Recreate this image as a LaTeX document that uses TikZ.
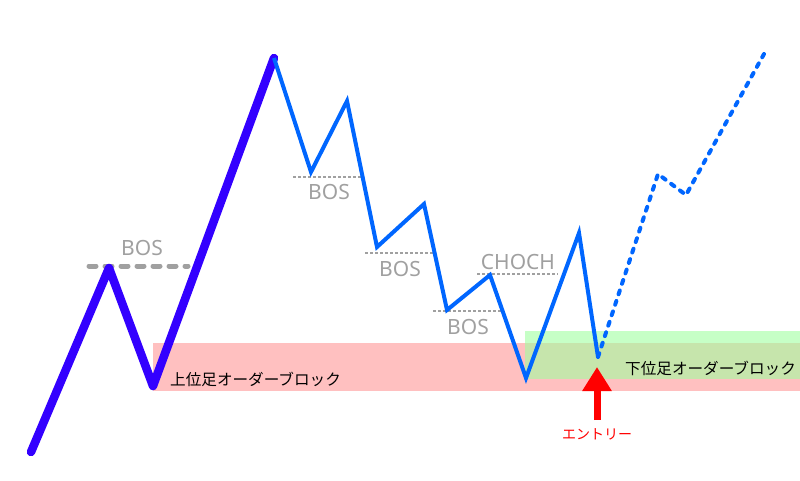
\documentclass[tikz,border=0pt]{standalone}
\usepackage{fontspec}
\setmainfont{Noto Sans CJK JP}
\newfontfamily\latinlbl{Noto Sans}
\usetikzlibrary{arrows.meta}
\definecolor{purp}{RGB}{51,0,255}
\definecolor{blu}{RGB}{0,102,255}
\definecolor{gry}{RGB}{160,160,160}
\definecolor{pnk}{RGB}{255,192,192}
\definecolor{grn}{RGB}{160,255,160}
\tikzset{
  lbl/.style={text=gry, font=\latinlbl\fontsize{21}{21}\selectfont, inner sep=0pt},
  jp/.style={text=black, font=\fontsize{15.6}{16}\selectfont, inner sep=0pt, anchor=west},
  bosline/.style={gry, line width=1.3pt, dash pattern=on 3pt off 2pt},
}
\begin{document}
\begin{tikzpicture}[x=1pt,y=-1pt]
\useasboundingbox (0,0) rectangle (800,480);
% zones
\fill[pnk] (153,343) rectangle (800,391);
\fill[grn, opacity=0.6] (525,331) rectangle (800,379);
% points
\coordinate (a0) at (31,452);
\coordinate (a1) at (109,268);
\coordinate (a2) at (153,386);
\coordinate (a3) at (274,58);
\coordinate (b1) at (311,172);
\coordinate (b2) at (347,101);
\coordinate (b3) at (377,247);
\coordinate (b4) at (424,204);
\coordinate (b5) at (447,310);
\coordinate (b6) at (490,275);
\coordinate (b7) at (526,378);
\coordinate (b8) at (579,233);
\coordinate (b9) at (598,357);
\coordinate (c1) at (658,174);
\coordinate (c2) at (686,195);
\coordinate (c3) at (764,54);
% BOS lines
\draw[gry, line width=5pt, line cap=round, dash pattern=on 7pt off 9pt] (89,266) coordinate (s1) -- (188,266) coordinate (e1);
\node[lbl] (t1) at (142,248) {BOS};
\draw[bosline] (293,177) coordinate (s2) -- (362,177) coordinate (e2);
\node[lbl] (t2) at (329,192) {BOS};
\draw[bosline] (365,253) coordinate (s3) -- (433,253) coordinate (e3);
\node[lbl] (t3) at (400,269) {BOS};
\draw[bosline] (477,274) coordinate (s4) -- (558,274) coordinate (e4);
\node[lbl] (t4) at (518,262) {CHOCH};
\draw[bosline] (433,311) coordinate (s5) -- (503,311) coordinate (e5);
\node[lbl] (t5) at (468,327) {BOS};
% price path
\draw[purp, line width=8.5pt, line join=round, line cap=round] (a0) -- (a1) -- (a2) -- (a3);
\draw[blu, line width=4pt, line join=miter] (a3) -- (b1) -- (b2) -- (b3) -- (b4) -- (b5) -- (b6) -- (b7) -- (b8) -- (b9);
\draw[blu, line width=4pt, line cap=round, dash pattern=on 4pt off 7pt] (b9) -- (c1) -- (c2) -- (c3);
% labels
\node[jp] (ob1) at (170,379) {上位足オーダーブロック};
\node[jp] (ob2) at (625,368) {下位足オーダーブロック};
% entry arrow
\coordinate (tip) at (597,367);
\coordinate (base) at (597,420);
\draw[red, line width=7pt, -{Triangle[width=28pt,length=24pt]}] (base) -- (tip);
\node[text=red, font=\fontsize{14}{14}\selectfont, inner sep=0pt] (ent) at (597,434) {エントリー};
\end{tikzpicture}
\end{document}
